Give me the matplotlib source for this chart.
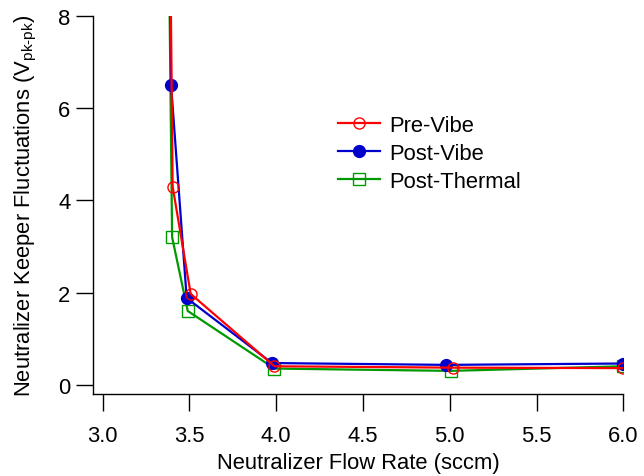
import matplotlib
matplotlib.use('Agg')
import matplotlib.pyplot as plt

plt.rcParams['font.family'] = ['Liberation Sans', 'DejaVu Sans']
plt.rcParams['mathtext.fontset'] = 'custom'
plt.rcParams['mathtext.rm'] = 'Liberation Sans'
plt.rcParams['mathtext.it'] = 'Liberation Sans:italic'

# data (first point of each series runs off the top)
pre_x = [3.388, 3.403, 3.507, 3.99, 5.02, 6.0]
pre_y = [10.0, 4.3, 1.97, 0.40, 0.37, 0.36]
post_x = [3.388, 3.394, 3.484, 3.975, 4.98, 6.0]
post_y = [10.0, 6.5, 1.88, 0.47, 0.43, 0.46]
therm_x = [3.38, 3.40, 3.49, 3.99, 5.005, 6.0]
therm_y = [10.0, 3.2, 1.6, 0.35, 0.30, 0.40]

xticks = [3.0, 3.5, 4.0, 4.5, 5.0, 5.5, 6.0]
yticks = [0, 2, 4, 6, 8]

FS = 15.8

fig = plt.figure(figsize=(6.44, 4.77), dpi=100)
ax = fig.add_axes([92.7/644, 82/477, (623.3-92.7)/644, (395-17)/477])

l3, = ax.plot(therm_x, therm_y, color='#009900', lw=1.6, marker='s', ms=9,
              mfc='none', mec='#009900', mew=1.0, label='Post-Thermal')
l2, = ax.plot(post_x, post_y, color='#0000cc', lw=1.6, marker='o', ms=8.5,
              mfc='#0000cc', mec='#0000cc', label='Post-Vibe')
l1, = ax.plot(pre_x, pre_y, color='#ff0000', lw=1.6, marker='o', ms=8,
              mfc='none', mec='#ff0000', mew=1.0, label='Pre-Vibe')

ax.set_xlim(3.0 - 10/173.5, 6.0)
ax.set_ylim(-9.3/46.1, 8)
ax.set_xticks(xticks)
ax.set_xticklabels(['%.1f' % v for v in xticks])
ax.set_yticks(yticks)
ax.spines['top'].set_visible(False)
ax.spines['right'].set_visible(False)
for s in ['left', 'bottom']:
    ax.spines[s].set_linewidth(1.0)
ax.tick_params(direction='out', length=12, width=1.0, labelsize=FS, colors='black')
ax.tick_params(axis='x', pad=10)
ax.tick_params(axis='y', pad=4)

ax.set_xlabel('Neutralizer Flow Rate (sccm)', fontsize=FS, labelpad=5)
ax.set_ylabel(r'Neutralizer Keeper Fluctuations (V$_{\text{pk-pk}}$)', fontsize=FS, labelpad=14)

leg = ax.legend(handles=[l1, l2, l3], loc='upper left', frameon=False, fontsize=FS,
                numpoints=1, handlelength=1.9, handletextpad=0.45, labelspacing=0.32,
                borderpad=0, borderaxespad=0,
                bbox_to_anchor=(338/644, 1 - 116/477), bbox_transform=fig.transFigure)

fig.savefig('out.png', dpi=100)
